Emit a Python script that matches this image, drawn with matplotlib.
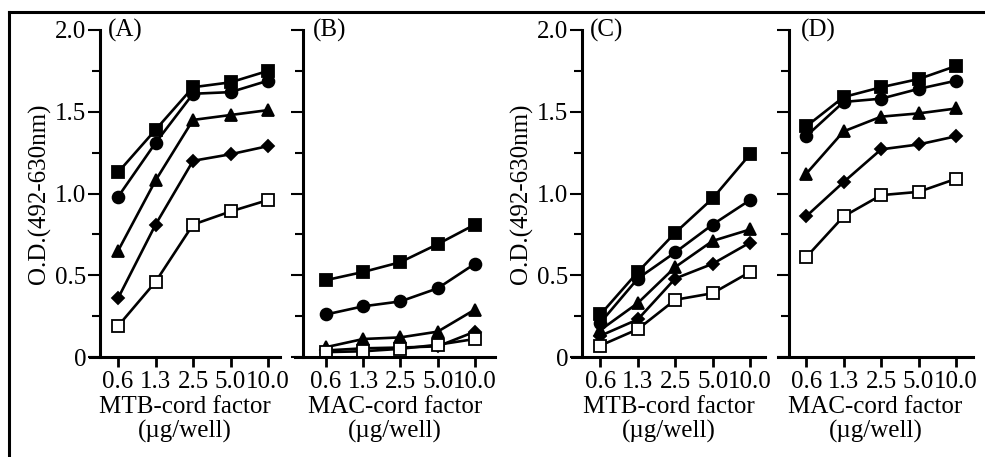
import matplotlib
matplotlib.use("Agg")
import matplotlib.pyplot as plt
from matplotlib.lines import Line2D

plt.rcParams.update({
    "font.family": "Liberation Serif", "font.size": 18,
})

DOSES = ["0.6", "1.3", "2.5", "5.0", "10.0"]
PANELS = ["(A)", "(B)", "(C)", "(D)"]
XLABELS = ["MTB-cord factor\n(\u00b5g/well)", "MAC-cord factor\n(\u00b5g/well)",
           "MTB-cord factor\n(\u00b5g/well)", "MAC-cord factor\n(\u00b5g/well)"]
YLABEL = "O.D.(492-630nm)"
YTICKS = [0, 0.5, 1.0, 1.5, 2.0]
YTICKLABELS = ["0", "0.5", "1.0", "1.5", "2.0"]
YMINOR = [0.25, 0.75, 1.25, 1.75]

# five serum series per panel: filled square, circle, triangle, diamond, open square
A_SQ = [1.13, 1.39, 1.65, 1.68, 1.75]
A_CI = [0.98, 1.31, 1.61, 1.62, 1.69]
A_TR = [0.65, 1.08, 1.45, 1.48, 1.51]
A_DI = [0.36, 0.81, 1.20, 1.24, 1.29]
A_OS = [0.19, 0.46, 0.81, 0.89, 0.96]

B_SQ = [0.47, 0.52, 0.58, 0.69, 0.81]
B_CI = [0.26, 0.31, 0.34, 0.42, 0.57]
B_TR = [0.06, 0.11, 0.12, 0.155, 0.29]
B_DI = [0.04, 0.053, 0.058, 0.065, 0.155]
B_OS = [0.03, 0.035, 0.05, 0.075, 0.11]

C_SQ = [0.26, 0.52, 0.76, 0.97, 1.24]
C_CI = [0.21, 0.48, 0.64, 0.81, 0.96]
C_TR = [0.165, 0.33, 0.55, 0.71, 0.78]
C_DI = [0.13, 0.23, 0.48, 0.57, 0.70]
C_OS = [0.07, 0.17, 0.35, 0.39, 0.52]

D_SQ = [1.41, 1.59, 1.65, 1.70, 1.78]
D_CI = [1.35, 1.56, 1.58, 1.64, 1.69]
D_TR = [1.12, 1.38, 1.47, 1.49, 1.52]
D_DI = [0.86, 1.07, 1.27, 1.30, 1.35]
D_OS = [0.61, 0.86, 0.99, 1.01, 1.09]

DATA = [[A_SQ, A_CI, A_TR, A_DI, A_OS], [B_SQ, B_CI, B_TR, B_DI, B_OS],
        [C_SQ, C_CI, C_TR, C_DI, C_OS], [D_SQ, D_CI, D_TR, D_DI, D_OS]]
MARKERS = [("s", "black", 8.5), ("o", "black", 8.5), ("^", "black", 9),
           ("D", "black", 6.5), ("s", "white", 8)]

# axes frames in pixels: x-axis start/end, then y-axis position and xlim (data units)
BOXES = [(90, 280, -0.48, -0.75, 4.32), (295, 495, -0.62, -0.83, 4.54),
         (572, 765, -0.49, -0.76, 4.40), (778, 973, -0.45, -0.75, 4.45)]
TAG_DX = [0.21, 0.27, 0.22, 0.3]  # panel letter offset from the y-axis

W, H = 985, 457
fig = plt.figure(figsize=(W / 100, H / 100), dpi=100)

for i, (x0, x1, spine_x, lo, hi) in enumerate(BOXES):
    ax = fig.add_axes([x0 / W, (H - 357) / H, (x1 - x0) / W, 327 / H])
    xs = range(len(DOSES))
    for ys, (m, fc, ms) in zip(DATA[i], MARKERS):
        ax.plot(xs, ys, color="black", lw=1.9, marker=m, ms=ms,
                mfc=fc, mec="black", mew=1.3, clip_on=False)
    ax.set_xlim(lo, hi)
    ax.set_ylim(0, 2.0)
    ax.spines["top"].set_visible(False)
    ax.spines["right"].set_visible(False)
    ax.spines["left"].set_position(("data", spine_x))
    ax.spines["left"].set_linewidth(2.2)
    ax.spines["bottom"].set_linewidth(2.2)
    ax.set_xticks(list(xs))
    ax.set_xticklabels(DOSES)
    ax.set_yticks(YTICKS)
    ax.set_yticks(YMINOR, minor=True)
    ax.tick_params(axis="x", direction="out", length=7, width=2, pad=3)
    ax.tick_params(axis="y", which="major", direction="out", length=9, width=1.5, pad=1)
    ax.tick_params(axis="y", which="minor", direction="out", length=6, width=1.5)
    if i in (0, 2):
        ax.set_yticklabels(YTICKLABELS)
        ax.set_ylabel(YLABEL, fontsize=18, labelpad=3)
    else:
        ax.set_yticklabels([])
    ax.set_xlabel(XLABELS[i], linespacing=1.15, labelpad=2)
    ax.text(spine_x + TAG_DX[i], 2.0, PANELS[i], ha="left", va="center", fontsize=18)
    ax.patch.set_visible(False)

# outer border (left and top edges)
fig.add_artist(Line2D([9 / W, 9 / W], [0, (H - 12) / H], color="black", lw=2.2,
                      transform=fig.transFigure))
fig.add_artist(Line2D([9 / W, 1], [(H - 12) / H, (H - 12) / H], color="black", lw=2.2,
                      transform=fig.transFigure))

fig.savefig("out.png", dpi=100)
